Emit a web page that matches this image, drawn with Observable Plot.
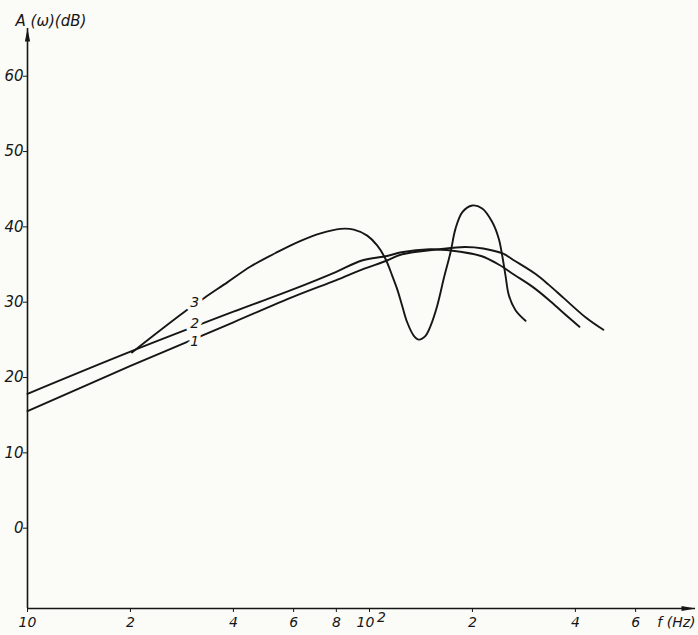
<!DOCTYPE html>
<html>
<head>
<meta charset="utf-8">
<script src="https://cdn.jsdelivr.net/npm/d3@7"></script>
<script src="https://cdn.jsdelivr.net/npm/@observablehq/plot@0.6"></script>
<style>
  html, body { margin: 0; padding: 0; background: #fbfbf7; }
</style>
</head>
<body>
<div id="chart"></div>
<script>
// Curve 1
const freq1 = [10, 20, 40, 60, 80, 95, 112.6, 124, 160, 190, 215, 246, 265, 306, 334, 370, 430, 483];
const db1   = [16.2, 22.2, 28.0, 31.4, 33.6, 35.0, 36.2, 37.0, 37.7, 38.0, 37.8, 37.1, 36.2, 34.4, 33.0, 31.2, 28.6, 27.0];
// Curve 2
const freq2 = [10, 20, 40, 60, 80, 95, 112.6, 124, 150, 175, 212, 240, 265, 300, 334, 370, 411];
const db2   = [18.5, 24.1, 29.4, 32.4, 34.7, 36.2, 36.8, 37.3, 37.7, 37.5, 36.8, 35.6, 34.3, 32.7, 31.0, 29.2, 27.4];
// Curve 3
const freq3 = [20.2, 28.6, 32.8, 38.4, 44.9, 53.7, 62.9, 71.9, 82.3, 90.0, 98.5, 105.3, 111.4, 116.5, 120.5, 124.6, 128.9, 134.8, 139.4, 145.8, 150.8, 157.8, 164.9, 172.6, 178.4, 186.7, 199.7, 213.6, 228.5, 238.8, 244.3, 249.9, 255.5, 267.3, 285.9];
const db3   = [24.0, 29.3, 31.2, 33.3, 35.4, 37.3, 38.8, 39.8, 40.4, 40.3, 39.5, 38.2, 36.4, 34.2, 32.4, 30.2, 28.0, 26.2, 25.7, 26.2, 27.5, 30.2, 33.8, 37.3, 40.4, 42.6, 43.5, 43.1, 41.3, 39.1, 36.9, 34.2, 31.6, 29.6, 28.2];

// Curve labels
const curveLabels = ["3", "2", "1"];
const curveLabelF = 30.8;
const curveLabelDb = [30.6, 27.8, 25.4];

// Axis ticks
const xTicks = [10, 20, 40, 60, 80, 100, 200, 400, 600];
const xTickLabels = ["10", "2", "4", "6", "8", "10", "2", "4", "6"];
const xTickShift = [0, 0, 0, 0, 0, -4, 0, 0, 0];
const yTicks = [0, 10, 20, 30, 40, 50, 60];

const ink = "#161616";
const bg = "#fbfbf7";

const toRows = (fs, ds) => fs.map((f, i) => ({f, db: ds[i]}));
const c1 = toRows(freq1, db1);
const c2 = toRows(freq2, db2);
const c3 = toRows(freq3, db3);
const labelRows = curveLabels.map((t, i) => ({f: curveLabelF, db: curveLabelDb[i], t}));
const xLabelRows = xTicks.map((f, i) => ({f: f * Math.pow(10, xTickShift[i] / 342), t: xTickLabels[i]}));

const arrowUp = {draw(ctx) { ctx.moveTo(0, 0); ctx.lineTo(-2.6, 13); ctx.lineTo(2.6, 13); ctx.closePath(); }};
const arrowRight = {draw(ctx) { ctx.moveTo(0, 0); ctx.lineTo(-14, -2.4); ctx.lineTo(-14, 2.4); ctx.closePath(); }};

const chart = Plot.plot({
  width: 698,
  height: 635,
  marginLeft: 27,
  marginRight: 3,
  marginTop: 28,
  marginBottom: 27,
  x: {type: "log", domain: [10, 898], label: null},
  y: {domain: [-10, 67], label: null},
  style: {background: bg, fontFamily: "DejaVu Sans", fontStyle: "italic", color: ink},
  marks: [
    Plot.ruleY([-10], {stroke: ink, strokeWidth: 1.6}),
    Plot.ruleX([10], {stroke: ink, strokeWidth: 1.6}),
    Plot.dot([{f: 10, db: 67}], {x: "f", y: "db", symbol: arrowUp, fill: ink, stroke: null}),
    Plot.dot([{f: 898, db: -10}], {x: "f", y: "db", symbol: arrowRight, fill: ink, stroke: null}),
    Plot.axisY({ticks: yTicks, tickSize: 4, tickPadding: 0, dy: -5, fontSize: 15, label: null, tickFormat: d => String(d)}),
    Plot.axisX({ticks: xTicks, tickSize: 4, label: null, tickFormat: () => ""}),
    Plot.text(xLabelRows, {x: "f", text: "t", frameAnchor: "bottom", dy: 18, fontSize: 14}),
    Plot.text([{f: 100}], {x: "f", frameAnchor: "bottom", text: () => "2", dx: 12, dy: 13, fontSize: 14}),
    Plot.text(["f (Hz)"], {frameAnchor: "bottom-right", textAnchor: "end", dx: 0, dy: 18, fontSize: 14}),
    Plot.text(["A (\u03c9)(dB)"], {frameAnchor: "top-left", textAnchor: "start", dx: -12, dy: -13, fontSize: 15}),
    Plot.line(c1, {x: "f", y: "db", curve: "catmull-rom", stroke: ink, strokeWidth: 1.9}),
    Plot.line(c2, {x: "f", y: "db", curve: "catmull-rom", stroke: ink, strokeWidth: 1.9}),
    Plot.line(c3, {x: "f", y: "db", curve: "catmull-rom", stroke: ink, strokeWidth: 1.9}),
    Plot.text(labelRows, {x: "f", y: "db", text: "t", fontSize: 14, fill: ink, stroke: bg, strokeWidth: 8})
  ]
});
document.getElementById("chart").appendChild(chart);
</script>
</body>
</html>
